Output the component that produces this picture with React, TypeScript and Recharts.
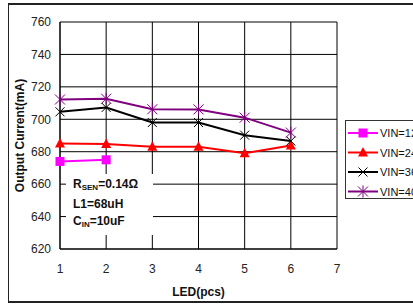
import {
  CartesianGrid,
  Line,
  LineChart,
  XAxis,
  YAxis,
} from "recharts";

const leds = [1, 2, 3, 4, 5, 6];
const vin12 = [674, 675, null, null, null, null];
const vin24 = [685, 684.7, 683, 683, 679, 683.8];
const vin36 = [704.6, 707.3, 698, 698, 690.2, 686.6];
const vin40 = [712.2, 712.7, 706.2, 706.1, 701, 691.8];
const xTicks = [1, 2, 3, 4, 5, 6, 7];
const yTicks = [620, 640, 660, 680, 700, 720, 740, 760];

const series = [
  { key: "vin12", name: "VIN=12V", color: "#ff00ff", shape: "square" },
  { key: "vin24", name: "VIN=24V", color: "#ff0000", shape: "triangle" },
  { key: "vin36", name: "VIN=36V", color: "#000000", shape: "cross" },
  { key: "vin40", name: "VIN=40V", color: "#800080", shape: "star" },
];

const data = leds.map((led, i) => ({
  led,
  vin12: vin12[i],
  vin24: vin24[i],
  vin36: vin36[i],
  vin40: vin40[i],
}));

const FONT = "'Liberation Sans', Arial, sans-serif";

function Marker({ shape, color, cx, cy }: { shape: string; color: string; cx: number; cy: number }) {
  if (shape === "square") {
    return <rect x={cx - 4.5} y={cy - 4.5} width={9} height={9} fill={color} />;
  }
  if (shape === "triangle") {
    return (
      <polygon
        points={`${cx},${cy - 5.5} ${cx + 5},${cy + 4} ${cx - 5},${cy + 4}`}
        fill={color}
      />
    );
  }
  if (shape === "cross") {
    return (
      <g stroke={color} strokeWidth={1}>
        <line x1={cx - 4.5} y1={cy - 4.5} x2={cx + 4.5} y2={cy + 4.5} />
        <line x1={cx - 4.5} y1={cy + 4.5} x2={cx + 4.5} y2={cy - 4.5} />
      </g>
    );
  }
  return (
    <g stroke={color} strokeWidth={1}>
      <line x1={cx - 5} y1={cy - 5} x2={cx + 5} y2={cy + 5} />
      <line x1={cx - 5} y1={cy + 5} x2={cx + 5} y2={cy - 5} />
      <line x1={cx} y1={cy - 6} x2={cx} y2={cy + 6} />
    </g>
  );
}

function makeDot(shape: string, color: string) {
  return (props: any) => {
    const { cx, cy, value, index } = props;
    if (value == null || cx == null || cy == null) return <g key={index} />;
    return <Marker key={index} shape={shape} color={color} cx={cx} cy={cy} />;
  };
}

function LegendBox() {
  return (
    <div
      style={{
        position: "absolute",
        left: 345,
        top: 120,
        width: 80,
        height: 77,
        border: "1px solid #333",
        background: "#fff",
      }}
    >
      <svg width={80} height={77} style={{ display: "block" }}>
        {series.map((s, i) => {
          const y = 12 + i * 19.5;
          return (
            <g key={s.key}>
              <line x1={2} y1={y} x2={32} y2={y} stroke={s.color} strokeWidth={2} />
              <Marker shape={s.shape} color={s.color} cx={17} cy={y} />
              <text x={34} y={y + 4} fontSize={11} fontFamily={FONT} fill="#111">
                {s.name}
              </text>
            </g>
          );
        })}
      </svg>
    </div>
  );
}

function YLabel({ viewBox }: any) {
  const cx = viewBox.x + 20;
  const cy = viewBox.y + viewBox.height / 2;
  return (
    <text
      x={cx}
      y={cy}
      transform={`rotate(-90 ${cx} ${cy})`}
      textAnchor="middle"
      dominantBaseline="central"
      fontFamily={FONT}
      fontSize={12}
      fontWeight="bold"
      fill="#111"
    >
      Output Current(mA)
    </text>
  );
}

function XLabel({ viewBox }: any) {
  return (
    <text
      x={viewBox.x + viewBox.width / 2}
      y={viewBox.y + 43}
      textAnchor="middle"
      dominantBaseline="central"
      fontFamily={FONT}
      fontSize={12}
      fontWeight="bold"
      fill="#111"
    >
      LED(pcs)
    </text>
  );
}

export default function App() {
  return (
    <div
      style={{
        position: "absolute",
        left: 0,
        top: 0,
        width: 413,
        height: 305,
        overflow: "hidden",
        background: "#fff",
      }}
    >
      <div
        style={{
          position: "absolute",
          left: 8,
          top: 3,
          width: 430,
          height: 296,
          borderLeft: "1px solid #222",
          borderBottom: "2px solid #222",
          borderTop: "2px solid #222",
        }}
      />
      <LineChart
        width={413}
        height={305}
        data={data}
        margin={{ top: 22, right: 76, bottom: 0, left: 0 }}
        style={{ position: "absolute", left: 0, top: 0 }}
      >
        <CartesianGrid stroke="#000" strokeWidth={1} horizontalValues={yTicks} verticalValues={xTicks} />
        <XAxis
          dataKey="led"
          type="number"
          domain={[1, 7]}
          ticks={xTicks}
          height={56}
          tickLine={false}
          axisLine={{ stroke: "#000" }}
          tickMargin={9}
          tick={{ fontFamily: FONT, fontSize: 12, fill: "#222" }}
          label={<XLabel />}
        />
        <YAxis
          type="number"
          domain={[620, 760]}
          ticks={yTicks}
          width={60}
          tickLine={false}
          axisLine={{ stroke: "#000" }}
          tickMargin={3}
          tick={{ fontFamily: FONT, fontSize: 12, fill: "#222" }}
          label={<YLabel />}
        />
        {series.map((s) => (
          <Line
            key={s.key}
            dataKey={s.key}
            name={s.name}
            stroke={s.color}
            strokeWidth={2}
            dot={makeDot(s.shape, s.color)}
            activeDot={false}
            connectNulls={false}
            isAnimationActive={false}
          />
        ))}
      </LineChart>
      <LegendBox />
      <div
        style={{
          position: "absolute",
          left: 66,
          top: 174,
          width: 87,
          height: 61,
          background: "#fff",
          fontFamily: FONT,
          fontSize: 12,
          fontWeight: "bold",
          color: "#111",
          lineHeight: "17px",
          paddingLeft: 7,
          boxSizing: "border-box",
          paddingTop: 2,
        }}
      >
        <div>
          R<sub style={{ fontSize: 8, verticalAlign: "-2px" }}>SEN</sub>=0.14Ω
        </div>
        <div>L1=68uH</div>
        <div>
          C<sub style={{ fontSize: 8, verticalAlign: "-2px" }}>IN</sub>=10uF
        </div>
      </div>
    </div>
  );
}
